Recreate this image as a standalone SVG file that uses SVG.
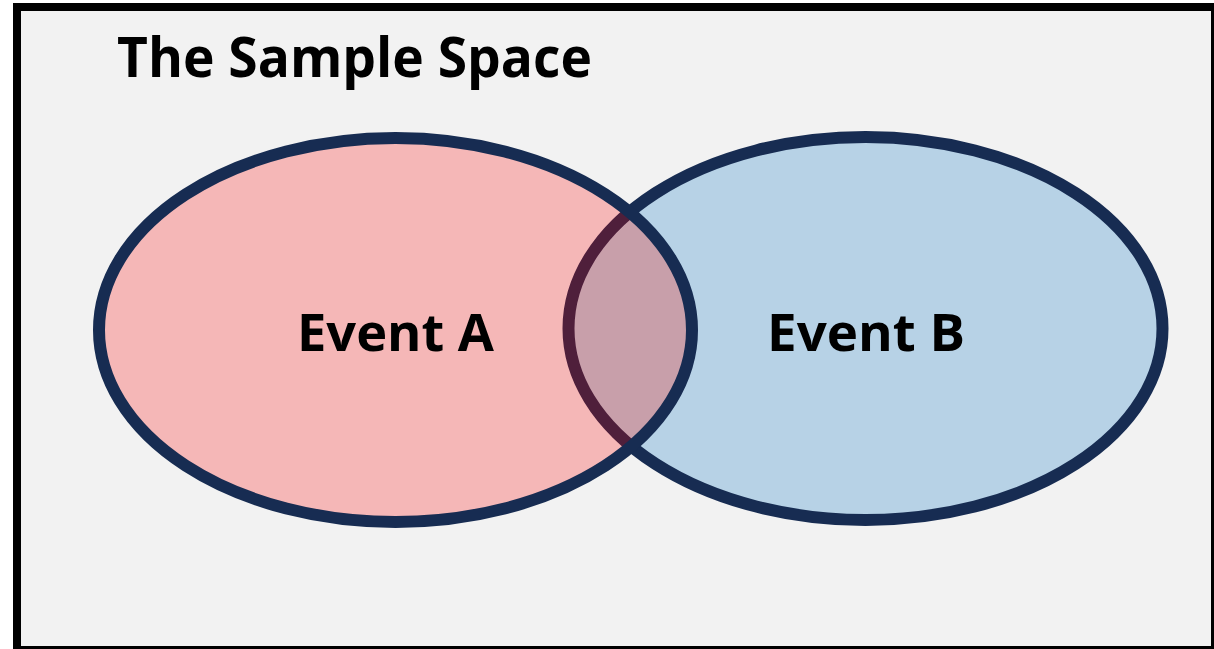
<svg xmlns="http://www.w3.org/2000/svg" width="1214" height="649" viewBox="0 0 1214 649">
<style>
.lbl{font-family:"Open Sans","Liberation Sans",sans-serif;font-weight:bold;fill:#000}
.edge{fill:none;stroke-width:12}
</style>
<defs>
<clipPath id="clipB"><ellipse cx="865.5" cy="328.5" rx="297" ry="191.5"/></clipPath>
<clipPath id="clipA"><ellipse cx="395.5" cy="330" rx="296.5" ry="192"/></clipPath>
</defs>
<g id="sample-space">
<rect x="17" y="7" width="1198" height="643" fill="#f2f2f2" stroke="#000" stroke-width="8"/>
<text class="lbl" x="117" y="77" font-size="56" textLength="475" lengthAdjust="spacingAndGlyphs">The Sample Space</text>
</g>
<g id="event-b">
<ellipse cx="865.5" cy="328.5" rx="297" ry="191.5" fill="#b7d2e6" stroke="#172c52" stroke-width="12"/>
</g>
<g id="event-a">
<ellipse cx="395.5" cy="330" rx="296.5" ry="192" fill="#f5b7b7"/>
</g>
<g id="intersection" clip-path="url(#clipA)">
<ellipse cx="865.5" cy="328.5" rx="297" ry="191.5" fill="#c89faa"/>
<ellipse class="edge" cx="865.5" cy="328.5" rx="297" ry="191.5" stroke="#4f1f3b"/>
</g>
<g id="outline-a">
<ellipse class="edge" cx="395.5" cy="330" rx="296.5" ry="192" stroke="#172c52"/>
</g>
<text class="lbl" x="297" y="351" font-size="52" textLength="197" lengthAdjust="spacingAndGlyphs">Event A</text>
<text class="lbl" x="767" y="351" font-size="52" textLength="198" lengthAdjust="spacingAndGlyphs">Event B</text>
</svg>
